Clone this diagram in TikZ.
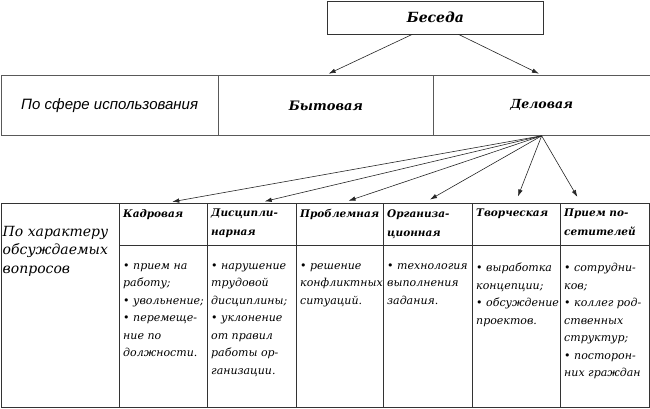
\documentclass[tikz,border=0pt]{standalone}
\usepackage{fontspec}
\setmainfont{DejaVu Serif}
\newfontfamily\sferafont{Liberation Sans}
\usetikzlibrary{arrows.meta}

\tikzset{
	cellbox/.style = {draw=black!80, line width=0.8pt, inner sep=0pt, anchor=north west},
	midcell/.style = {cellbox, draw=black!65, minimum height=60pt},
	hdrcell/.style = {cellbox, minimum height=42pt},
	itmcell/.style = {cellbox, minimum height=162pt},
	hdrtext/.style = {anchor=north west, inner sep=0pt, align=left, xshift=4pt, yshift=-6pt,
		font=\fontsize{10.5}{19}\selectfont\bfseries\itshape},
	itemtext/.style = {anchor=north west, inner sep=0pt, align=left, xshift=4pt, yshift=-18pt,
		font=\fontsize{11}{17.5}\selectfont\itshape},
	linkarrow/.style = {-{Latex[length=7pt,width=4.5pt]}, black!85, line width=0.6pt},
}

\begin{document}
\begin{tikzpicture}[x=1pt, y=-1pt]
	\useasboundingbox (0,0) rectangle (650,408);

	\node[cellbox, minimum width=216pt, minimum height=33pt, font=\fontsize{14}{16}\selectfont\bfseries\itshape]
		(besedaBox) at (327,0.5) {Беседа};

	\node[midcell, minimum width=217.5pt, font=\sferafont\fontsize{15}{17}\selectfont\itshape]
		(sferaCell) at (0.5,75) {По сфере использования};
	\node[midcell, minimum width=215pt, font=\fontsize{13}{16}\selectfont\bfseries\itshape]
		(bytCell) at (218,75) {Бытовая};
	\node[midcell, minimum width=216.5pt, font=\fontsize{12.5}{16}\selectfont\bfseries\itshape]
		(delCell) at (433,75) {Деловая};

	\draw[linkarrow, shorten >=3pt] ([xshift=-23pt]besedaBox.south) -- (bytCell.north);
	\draw[linkarrow, shorten >=3pt] ([xshift=23pt]besedaBox.south) -- (delCell.north);

	\node[cellbox, minimum width=118.5pt, minimum height=204pt] (harCell) at (0.5,203) {};
	\node[anchor=north west, inner sep=0pt, align=left, font=\fontsize{14}{18.5}\selectfont\itshape]
		(harText) at ([xshift=2pt, yshift=-23pt]harCell.north west) {По характеру\\обсуждаемых\\вопросов};

	\node[hdrcell, minimum width=88pt] (hdrA) at (119,203) {};
	\node[hdrcell, minimum width=89pt] (hdrB) at (207,203) {};
	\node[hdrcell, minimum width=87pt] (hdrC) at (296,203) {};
	\node[hdrcell, minimum width=89pt] (hdrD) at (383,203) {};
	\node[hdrcell, minimum width=88pt] (hdrE) at (472,203) {};
	\node[hdrcell, minimum width=89pt] (hdrF) at (560,203) {};

	\node[itmcell, minimum width=88pt] (itmA) at (119,245) {};
	\node[itmcell, minimum width=89pt] (itmB) at (207,245) {};
	\node[itmcell, minimum width=87pt] (itmC) at (296,245) {};
	\node[itmcell, minimum width=89pt] (itmD) at (383,245) {};
	\node[itmcell, minimum width=88pt] (itmE) at (472,245) {};
	\node[itmcell, minimum width=89pt] (itmF) at (560,245) {};

	\node[hdrtext] (hdrAtext) at (hdrA.north west) {Кадровая};
	\node[hdrtext] (hdrBtext) at (hdrB.north west) {Дисципли-\\нарная};
	\node[hdrtext] (hdrCtext) at (hdrC.north west) {Проблемная};
	\node[hdrtext] (hdrDtext) at (hdrD.north west) {Организа-\\ционная};
	\node[hdrtext] (hdrEtext) at (hdrE.north west) {Творческая};
	\node[hdrtext] (hdrFtext) at (hdrF.north west) {Прием по-\\сетителей};

	\node[itemtext] (itmAtext) at (itmA.north west)
		{• прием на\\работу;\\• увольнение;\\• перемеще-\\ние по\\должности.};
	\node[itemtext] (itmBtext) at (itmB.north west)
		{• нарушение\\трудовой\\дисциплины;\\• уклонение\\от правил\\работы ор-\\ганизации.};
	\node[itemtext] (itmCtext) at (itmC.north west)
		{• решение\\конфликтных\\ситуаций.};
	\node[itemtext] (itmDtext) at (itmD.north west)
		{• технология\\выполнения\\задания.};
	\node[itemtext] (itmEtext) at (itmE.north west)
		{• выработка\\концепции;\\• обсуждение\\проектов.};
	\node[itemtext] (itmFtext) at (itmF.north west)
		{• сотрудни-\\ков;\\• коллег род-\\ственных\\структур;\\• посторон-\\них граждан};

	\foreach \col/\dx in {hdrA/2, hdrB/6, hdrC/2, hdrD/-4, hdrE/-1, hdrF/-24}
		\draw[linkarrow, shorten >=7pt] (delCell.south) -- ([xshift=\dx pt]\col.north);
\end{tikzpicture}
\end{document}
